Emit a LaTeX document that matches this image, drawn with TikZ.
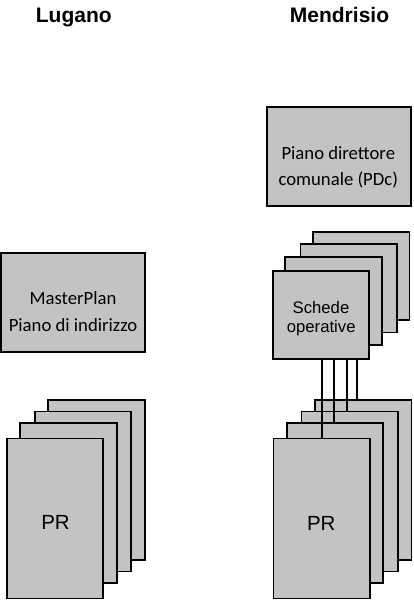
\documentclass[tikz,border=0pt]{standalone}
\usepackage{fontspec}
\setmainfont{Liberation Sans}
\newfontfamily\calib{Carlito}
\definecolor{boxgray}{RGB}{195,195,195}
\tikzset{
  card/.style={draw=black, fill=boxgray, line width=1.9pt, inner sep=0pt, outer sep=0pt},
  prcard/.style={card, minimum width=96.5pt, minimum height=160pt},
  sccard/.style={card, minimum width=96.5pt, minimum height=88.5pt},
  bigcard/.style={card, minimum width=144.3pt, minimum height=99.3pt},
  title/.style={anchor=base, inner sep=0pt, font=\fontsize{21}{25}\selectfont\bfseries},
  ctext/.style={anchor=base, inner sep=0pt, font=\fontsize{18.7}{22}\selectfont\calib},
  stext/.style={anchor=base, inner sep=0pt, font=\fontsize{16.7}{20}\selectfont},
  prtext/.style={anchor=base, inner sep=0pt, font=\fontsize{20.5}{24}\selectfont},
  link/.style={draw=black, line width=2pt}
}
\begin{document}
\begin{tikzpicture}[x={(1pt,0)}, y={(0,-1pt)}]
\useasboundingbox (0,0) rectangle (413,600);
% titles
\node[title] (tlug) at (73.8,22.7) {Lugano};
\node[title] (tmen) at (339.5,22.7) {Mendrisio};
% PDc
\node[bigcard] (pdc) at (338.8,156.3) {};
\node[ctext] (pdcA) at (338.3,159) {Piano direttore};
\node[ctext] (pdcB) at (338.3,185.7) {comunale (PDc)};
% MasterPlan
\node[bigcard, minimum width=144pt, minimum height=99pt] (mp) at (73,302.2) {};
\node[ctext] (mpA) at (73,304.3) {MasterPlan};
\node[ctext] (mpB) at (73,331.7) {Piano di indirizzo};
% Lugano PR stack
\node[prcard] (L4) at (96.5,480) {};
\node[prcard] (L3) at (83,491.5) {};
\node[prcard] (L2) at (68.5,503.2) {};
\node[prcard] (L1) at (55,518.5) {};
\node[prtext] (prL) at (55.5,529.3) {PR};
% Mendrisio PR stack
\node[prcard] (M4) at (363.2,480) {};
\node[prcard] (M3) at (349.7,491.5) {};
\node[prcard] (M2) at (335,503.2) {};
\node[prcard] (M1) at (321.7,518.5) {};
\node[prtext] (prM) at (321.3,530) {PR};
% Schede stack
\node[sccard] (S4) at (361.2,276) {};
\node[sccard] (S3) at (348.7,288.2) {};
\node[sccard] (S2) at (333.5,300.8) {};
\node[sccard] (S1) at (321,315) {};
\node[stext] (sA) at (321,313.3) {Schede};
\node[stext] (sB) at (321.2,332.7) {operative};
% links
\coordinate (p1) at ([xshift=0.3pt]M1.north);
\coordinate (p2) at ([xshift=-1pt]M2.north);
\coordinate (p3) at ([xshift=-2.7pt]M3.north);
\coordinate (p4) at ([xshift=-6.2pt]M4.north);
\draw[link] (S1.south -| p1) -- (p1);
\draw[link] (S1.south -| p2) -- (p2);
\draw[link] (S1.south -| p3) -- (p3);
\draw[link] (S1.south -| p4) -- (p4);
\end{tikzpicture}
\end{document}
